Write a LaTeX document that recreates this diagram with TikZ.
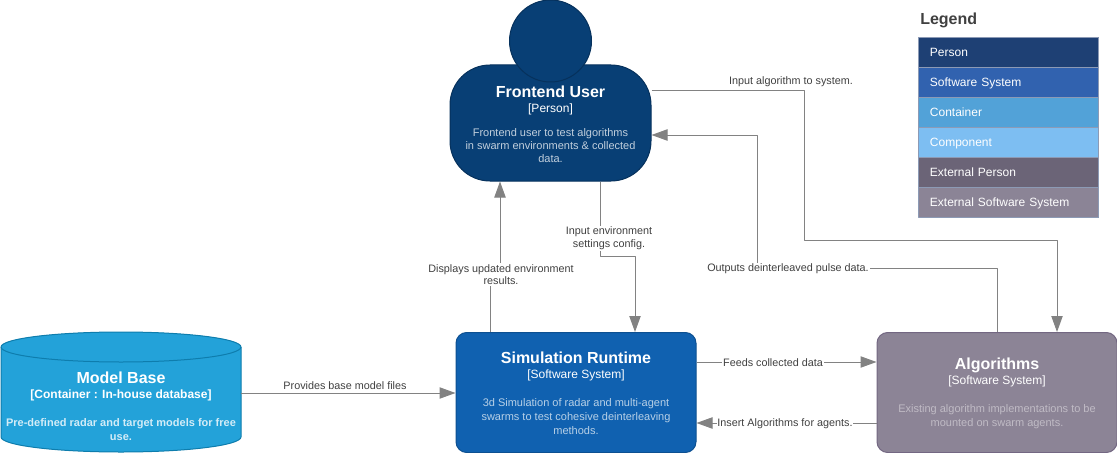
\documentclass[tikz,border=0pt]{standalone}
\usepackage{fontspec}
\setmainfont{Liberation Sans}
\usetikzlibrary{arrows.meta}
\definecolor{personFill}{HTML}{083F75}
\definecolor{personLine}{HTML}{06315C}
\definecolor{systemFill}{HTML}{1061B0}
\definecolor{systemLine}{HTML}{0D5091}
\definecolor{externFill}{HTML}{8C8496}
\definecolor{externLine}{HTML}{736782}
\definecolor{dbFill}{HTML}{23A2D9}
\definecolor{dbLine}{HTML}{0E7DAD}
\definecolor{relGrey}{HTML}{828282}
\definecolor{relText}{HTML}{404040}
\definecolor{legendLine}{HTML}{8C9AB5}
\definecolor{legPerson}{HTML}{1E4074}
\definecolor{legSystem}{HTML}{3162AF}
\definecolor{legContainer}{HTML}{52A2D8}
\definecolor{legComponent}{HTML}{7DBEF2}
\definecolor{legExtPerson}{HTML}{6B6477}
\definecolor{legExtSystem}{HTML}{8B8496}
\colorlet{personDesc}{white!75!personFill}
\colorlet{systemDesc}{white!70!systemFill}
\colorlet{externDesc}{white!45!externFill}
\colorlet{dbDesc}{white!80!dbFill}
\newcommand{\cfour}[4]{{\fontsize{12}{12}\selectfont\bfseries #1}\\[#3]{\fontsize{9}{12}\selectfont #2}\\[#4]}
\tikzset{
	cbox/.style={draw, line width=0.75pt, text=white, align=center, inner sep=0pt, minimum width=180pt, minimum height=90pt, font=\fontsize{8.25}{10.5}\selectfont},
	rel/.style={draw=relGrey, line width=0.75pt, -{Triangle[length=12pt,width=8.5pt,fill=relGrey]}},
	rellabel/.style={fill=white, text=relText, align=center, inner sep=0.6pt, font=\fontsize{8.1}{9.5}\selectfont},
	legendrow/.style={draw=legendLine, line width=0.75pt, text=white, anchor=north west, outer sep=0pt, minimum width=135pt, minimum height=22.5pt, inner ysep=0pt, inner xsep=8.6pt, text width=117.8pt, text height=8.1pt, text depth=2pt, align=left, font=\fontsize{9}{11}\selectfont}
}
\begin{document}
\begin{tikzpicture}[x=0.75pt, y=-0.75pt, line join=round, >=stealth]
	\useasboundingbox (0,0) rectangle (1117,453);
	% Person
	\node[cbox, fill=personFill, draw=personLine, rounded corners=30pt, minimum width=150.75pt, minimum height=87pt, font=\fontsize{8.25}{9.75}\selectfont] (user) at (550.5,123) {\cfour{\rule{0pt}{10.5pt}Frontend User}{[Person]}{1.45pt}{8.25pt}\textcolor{personDesc}{Frontend user to test algorithms}\\\textcolor{personDesc}{in swarm environments \& collected}\\\textcolor{personDesc}{data.}};
	\node[circle, fill=personFill, draw=personLine, line width=0.75pt, minimum size=61.5pt, inner sep=0pt] (head) at (550.5,41) {};
	% Systems
	\node[cbox, fill=systemFill, draw=systemLine, rounded corners=8pt] (sim) at (576,392.5) {\cfour{\rule{0pt}{9.75pt}Simulation Runtime}{[Software System]}{0.7pt}{10.5pt}\textcolor{systemDesc}{3d Simulation of radar and multi-agent}\\\textcolor{systemDesc}{swarms to test cohesive deinterleaving}\\\textcolor{systemDesc}{methods.}};
	\node[cbox, fill=externFill, draw=externLine, rounded corners=8pt] (algo) at (997,392.5) {\cfour{\rule{0pt}{10.5pt}Algorithms}{[Software System]}{0.7pt}{10.5pt}\textcolor{externDesc}{Existing algorithm implementations to be}\\\textcolor{externDesc}{mounted on swarm agents.}};
	% Database
	\fill[dbFill] (1,347) arc[start angle=180, end angle=360, x radius=120, y radius=15] -- (241,437) arc[start angle=0, end angle=180, x radius=120, y radius=15] -- cycle;
	\fill[dbFill] (1,347) arc[start angle=180, end angle=-180, x radius=120, y radius=15];
	\draw[dbLine, line width=0.75pt] (1,347) arc[start angle=180, end angle=-180, x radius=120, y radius=15];
	\draw[dbLine, line width=0.75pt] (1,347) -- (1,437) arc[start angle=180, end angle=0, x radius=120, y radius=15] -- (241,347);
	\node[text=white, align=center, inner sep=0pt, minimum width=180pt, minimum height=90pt, font=\fontsize{8.25}{10.5}\selectfont] (model) at (121,406) {\cfour{Model Base}{\bfseries [Container : In-house database]}{0.7pt}{10.5pt}\textcolor{dbDesc}{\bfseries Pre-defined radar and target models for free}\\\textcolor{dbDesc}{\bfseries use.}};
	% Bends of the connectors
	\coordinate (algoIn) at (804,90.5);
	\coordinate (algoTurn) at (804,240);
	\coordinate (algoDown) at (1057,240);
	\coordinate (outUp) at (997,268);
	\coordinate (outLeft) at (757,268);
	\coordinate (outBack) at (757,135);
	\coordinate (dispUp) at (490,268);
	\coordinate (dispOver) at (500,268);
	\coordinate (envDown) at (600.5,256);
	\coordinate (envOver) at (635,256);
	\coordinate (modelRow) at (241,393);
	\coordinate (feedRow) at (696,362);
	\coordinate (insertRow) at (696,423);
	% Connectors
	\draw[rel] (model.east |- modelRow) -- (sim.west |- modelRow);
	\draw[rel] (sim.east |- feedRow) -- (algo.west |- feedRow);
	\draw[rel] (algo.west |- insertRow) -- (sim.east |- insertRow);
	\draw[rel] (user.east |- algoIn) -- (algoIn) -- (algoTurn) -- (algoDown) -- (algo.north -| algoDown);
	\draw[rel] (algo.north -| outUp) -- (outUp) -- (outLeft) -- (outBack) -- (user.east |- outBack);
	\draw[rel] (sim.north -| dispUp) -- (dispUp) -- (dispOver) -- (user.south -| dispOver);
	\draw[rel] (user.south -| envDown) -- (envDown) -- (envOver) -- (sim.north -| envOver);
	% Connector labels
	\node[rellabel] (lblModel) at (345,385.5) {Provides base model files};
	\node[rellabel] (lblFeed) at (773,362.5) {Feeds collected data};
	\node[rellabel] (lblInsert) at (785,423.5) {Insert Algorithms for agents.};
	\node[rellabel] (lblAlgo) at (791,82) {Input algorithm to system.};
	\node[rellabel] (lblOut) at (788,268.5) {Outputs deinterleaved pulse data.};
	\node[rellabel] (lblDisp) at (501,274.5) {Displays updated environment\\results.};
	\node[rellabel] (lblEnv) at (609,238.5) {Input environment\\settings config.};
	% Legend
	\node[text=relText, anchor=west, inner sep=0pt, font=\fontsize{12}{14}\selectfont\bfseries] (legendTitle) at (920,20) {Legend};
	\foreach \r/\lab/\col in {0/Person/legPerson, 1/Software System/legSystem, 2/Container/legContainer, 3/Component/legComponent, 4/External Person/legExtPerson, 5/External Software System/legExtSystem}
		\node[legendrow, fill=\col] (legend\r) at (918.5,37.5+30*\r) {\lab};
\end{tikzpicture}
\end{document}
